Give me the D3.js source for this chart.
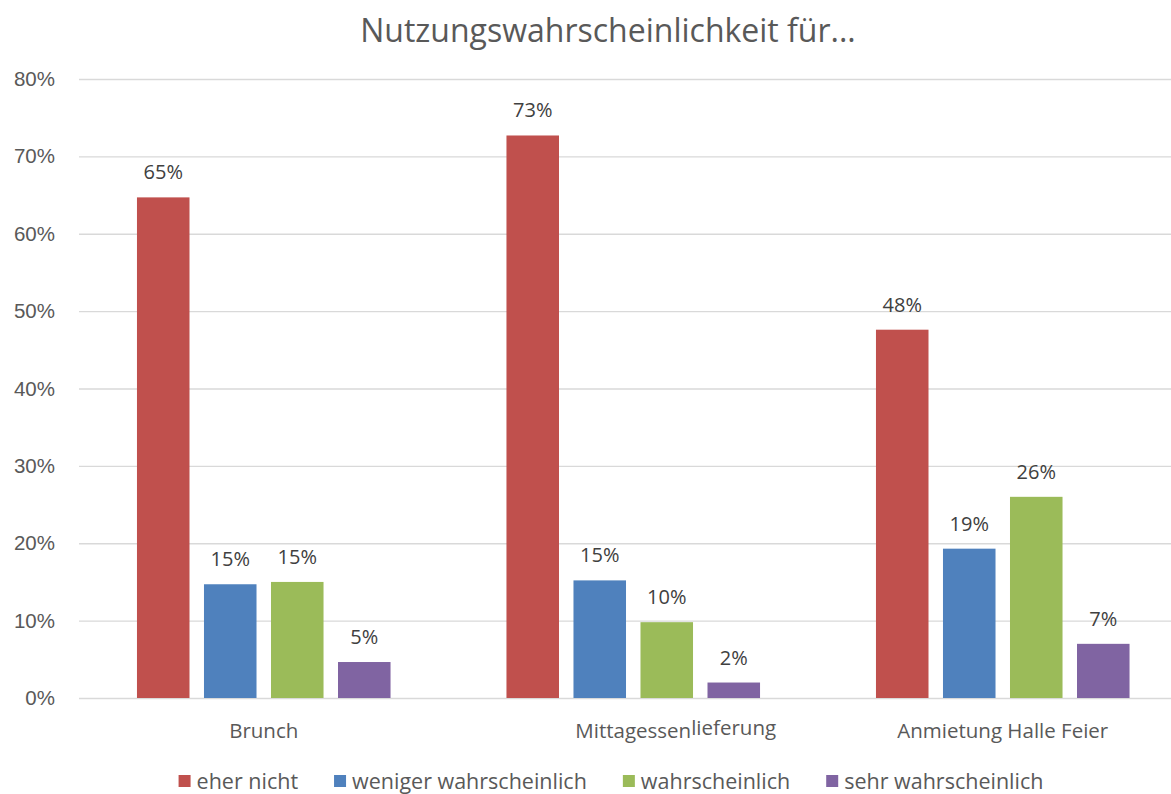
<!DOCTYPE html>
<html>
<head>
<meta charset="utf-8">
<script src="https://cdn.jsdelivr.net/npm/d3@7"></script>
<style>
    body { margin: 0; background: #fff; }
    svg { display: block; font-family: "Open Sans", sans-serif; }
</style>
</head>
<body>
<svg id="chart" width="1171" height="794"></svg>
<script>
const categories = ["Brunch", "Mittagessenlieferung", "Anmietung Halle Feier"];
const seriesNames = ["eher nicht", "weniger wahrscheinlich", "wahrscheinlich", "sehr wahrscheinlich"];
const eherNicht = [0.647, 0.727, 0.476];
const wenigerWahrscheinlich = [0.147, 0.152, 0.193];
const wahrscheinlich = [0.150, 0.098, 0.260];
const sehrWahrscheinlich = [0.0465, 0.020, 0.070];
const yTicks = [0, 0.1, 0.2, 0.3, 0.4, 0.5, 0.6, 0.7, 0.8];

const seriesValues = [eherNicht, wenigerWahrscheinlich, wahrscheinlich, sehrWahrscheinlich];
const colors = ["#c0504d", "#4f81bd", "#9bbb59", "#8064a2"];   // red, blue, green, purple

const width = 1171, height = 794;
const margin = { top: 79, right: 0, bottom: 96, left: 79 };

const svg = d3.select("#chart");

const x0 = d3.scaleBand()
    .domain(categories)
    .range([margin.left, margin.left + 3 * 369.5]);

const x1 = d3.scaleBand()
    .domain(seriesNames)
    .range([0, x0.bandwidth()])
    .paddingInner(0.216)
    .paddingOuter(0.865);

const y = d3.scaleLinear()
    .domain([0, 0.8])
    .range([698, margin.top]);

// gridlines + y labels
const yAxis = d3.axisLeft(y)
    .tickValues(yTicks)
    .tickFormat(d3.format(".0%"))
    .tickSize(-(width - margin.left))
    .tickPadding(24);

const gAxis = svg.append("g")
    .attr("transform", `translate(${margin.left},0)`)
    .call(yAxis);
gAxis.select(".domain").remove();
gAxis.selectAll(".tick line")
    .attr("stroke", "#d9d9d9")
    .attr("stroke-width", 1.3);
gAxis.selectAll(".tick text")
    .attr("fill", "#595959")
    .attr("font-size", 20.5);

// title
svg.append("text")
    .text("Nutzungswahrscheinlichkeit für...")
    .attr("x", 608)
    .attr("y", 42)
    .attr("text-anchor", "middle")
    .attr("font-size", 32)
    .attr("fill", "#595959");

// bars
const rows = [];
categories.forEach((c, ci) => {
    seriesNames.forEach((s, si) => {
        rows.push({ cat: c, series: s, value: seriesValues[si][ci], color: colors[si] });
    });
});

svg.append("g").selectAll("rect")
    .data(rows)
    .enter()
    .append("rect")
    .attr("x", d => x0(d.cat) + x1(d.series))
    .attr("y", d => y(d.value))
    .attr("width", x1.bandwidth())
    .attr("height", d => y(0) - y(d.value))
    .attr("fill", d => d.color);

svg.append("g").selectAll("text")
    .data(rows)
    .enter()
    .append("text")
    .text(d => Math.round(d.value * 100) + "%")
    .attr("x", d => x0(d.cat) + x1(d.series) + x1.bandwidth() / 2)
    .attr("y", d => y(d.value) - 18)
    .attr("text-anchor", "middle")
    .attr("font-size", 20)
    .attr("fill", "#404040");

// category labels
categories.forEach(c => {
    const cx = x0(c) + x0.bandwidth() / 2;
    if (c === "Mittagessenlieferung") {
        const t = svg.append("text")
            .attr("y", 738)
            .attr("font-size", 20.5)
            .attr("fill", "#595959");
        const first = t.append("tspan").text("Mittagessen");
        t.append("tspan").text("lieferung").attr("dy", -3);
        const w = first.node().getComputedTextLength();
        t.attr("x", cx - w / 2);
    } else {
        svg.append("text")
            .text(c)
            .attr("x", cx)
            .attr("y", 738)
            .attr("text-anchor", "middle")
            .attr("font-size", 20.5)
            .attr("fill", "#595959");
    }
});

// legend
const legend = svg.append("g");
let lx = 0;
seriesNames.forEach((s, i) => {
    const item = legend.append("g").attr("transform", `translate(${lx},0)`);
    item.append("rect")
        .attr("x", 0)
        .attr("y", -14)
        .attr("width", 12)
        .attr("height", 12)
        .attr("fill", colors[i]);
    const t = item.append("text")
        .text(s)
        .attr("x", 18)
        .attr("y", 0)
        .attr("font-size", 21.5)
        .attr("fill", "#595959");
    lx += 18 + t.node().getComputedTextLength() + 36;
});
const legendWidth = lx - 36;
legend.attr("transform", `translate(${611 - legendWidth / 2},789)`);
</script>
</body>
</html>
